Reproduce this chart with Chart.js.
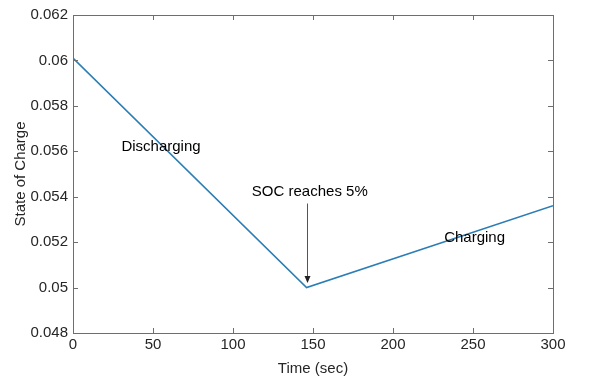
<!DOCTYPE html>
<html>
<head>
<meta charset="utf-8">
<script src="https://cdn.jsdelivr.net/npm/chart.js@4"></script>
<style>
  html, body { margin: 0; padding: 0; background: #fff; }
  #wrap { width: 598px; height: 381px; }
</style>
</head>
<body>
<div id="wrap"><canvas id="chart" width="598" height="381"></canvas></div>
<script>
// data
const timeSec = [0, 146, 300];
const stateOfCharge = [0.0601, 0.0500, 0.0536];
const xTicks = [0, 50, 100, 150, 200, 250, 300];
const yTicks = [0.048, 0.05, 0.052, 0.054, 0.056, 0.058, 0.06, 0.062];

// text notes, in data units
const notes = [
    { text: 'Discharging', x: 55, y: 0.0562 },
    { text: 'Charging', x: 251, y: 0.0522 },
    { text: 'SOC reaches 5%', x: 148, y: 0.0542 }
];
const arrowFrom = { x: 146, y: 0.0537 };
const arrowTo = { x: 146, y: 0.0502 };

const FONT = '"Liberation Sans", Arial, sans-serif';
const AXIS_COLOR = '#262626';
const BOX_COLOR = '#6e6e6e';

// MATLAB style: box round the plot, ticks pointing in
const boxPlugin = {
    id: 'matlabBox',
    afterDatasetsDraw(chart) {
        const ctx = chart.ctx;
        const a = chart.chartArea;
        const xs = chart.scales.x, ys = chart.scales.y;
        ctx.save();
        ctx.strokeStyle = BOX_COLOR;
        ctx.lineWidth = 1;
        ctx.strokeRect(Math.round(a.left) + 0.5, Math.round(a.top) + 0.5,
            Math.round(a.right - a.left), Math.round(a.bottom - a.top));
        const len = 5;
        ctx.beginPath();
        xTicks.forEach(v => {
            const px = Math.round(xs.getPixelForValue(v)) + 0.5;
            ctx.moveTo(px, a.bottom); ctx.lineTo(px, a.bottom - len);
            ctx.moveTo(px, a.top); ctx.lineTo(px, a.top + len);
        });
        yTicks.forEach(v => {
            const py = Math.round(ys.getPixelForValue(v)) + 0.5;
            ctx.moveTo(a.left, py); ctx.lineTo(a.left + len, py);
            ctx.moveTo(a.right, py); ctx.lineTo(a.right - len, py);
        });
        ctx.stroke();

        // notes
        ctx.fillStyle = '#000';
        ctx.font = '15px ' + FONT;
        ctx.textAlign = 'center';
        ctx.textBaseline = 'middle';
        notes.forEach(n => {
            ctx.fillText(n.text, xs.getPixelForValue(n.x), ys.getPixelForValue(n.y));
        });

        // arrow
        const ax = Math.round(xs.getPixelForValue(arrowFrom.x)) + 0.5;
        const y0 = ys.getPixelForValue(arrowFrom.y);
        const y1 = ys.getPixelForValue(arrowTo.y);
        ctx.strokeStyle = '#555';
        ctx.beginPath();
        ctx.moveTo(ax, y0); ctx.lineTo(ax, y1 - 4);
        ctx.stroke();
        ctx.fillStyle = '#222';
        ctx.beginPath();
        ctx.moveTo(ax, y1);
        ctx.lineTo(ax - 3, y1 - 7);
        ctx.lineTo(ax + 3, y1 - 7);
        ctx.closePath();
        ctx.fill();
        ctx.restore();
    }
};

const points = timeSec.map((t, i) => ({ x: t, y: stateOfCharge[i] }));

new Chart(document.getElementById('chart'), {
    type: 'scatter',
    data: {
        datasets: [{
            data: points,
            showLine: true,
            borderColor: '#2a7db5',
            borderWidth: 1.5,
            pointRadius: 0,
            fill: false
        }]
    },
    options: {
        responsive: false,
        animation: false,
        layout: { padding: { left: 12, top: 15, right: 45, bottom: 3 } },
        plugins: {
            legend: { display: false },
            tooltip: { enabled: false }
        },
        scales: {
            x: {
                type: 'linear',
                min: 0,
                max: 300,
                afterBuildTicks: s => { s.ticks = xTicks.map(v => ({ value: v })); },
                afterFit: s => { s.height = 45; },
                grid: { display: false, drawTicks: false },
                border: { display: false },
                ticks: {
                    padding: 3,
                    color: AXIS_COLOR,
                    font: { family: FONT, size: 15 },
                    maxRotation: 0
                },
                title: {
                    display: true,
                    text: 'Time (sec)',
                    color: AXIS_COLOR,
                    font: { family: FONT, size: 15 },
                    padding: { top: 0, bottom: 0 }
                }
            },
            y: {
                type: 'linear',
                min: 0.048,
                max: 0.062,
                afterBuildTicks: s => { s.ticks = yTicks.map(v => ({ value: v })); },
                afterFit: s => { s.width = 61; },
                grid: { display: false, drawTicks: false },
                border: { display: false },
                ticks: {
                    padding: 5,
                    color: AXIS_COLOR,
                    font: { family: FONT, size: 15 },
                    callback: v => String(parseFloat(v.toFixed(3)))
                },
                title: {
                    display: true,
                    text: 'State of Charge',
                    color: AXIS_COLOR,
                    font: { family: FONT, size: 15 },
                    padding: { top: 0, bottom: 0 }
                }
            }
        }
    },
    plugins: [boxPlugin]
});
</script>
</body>
</html>
